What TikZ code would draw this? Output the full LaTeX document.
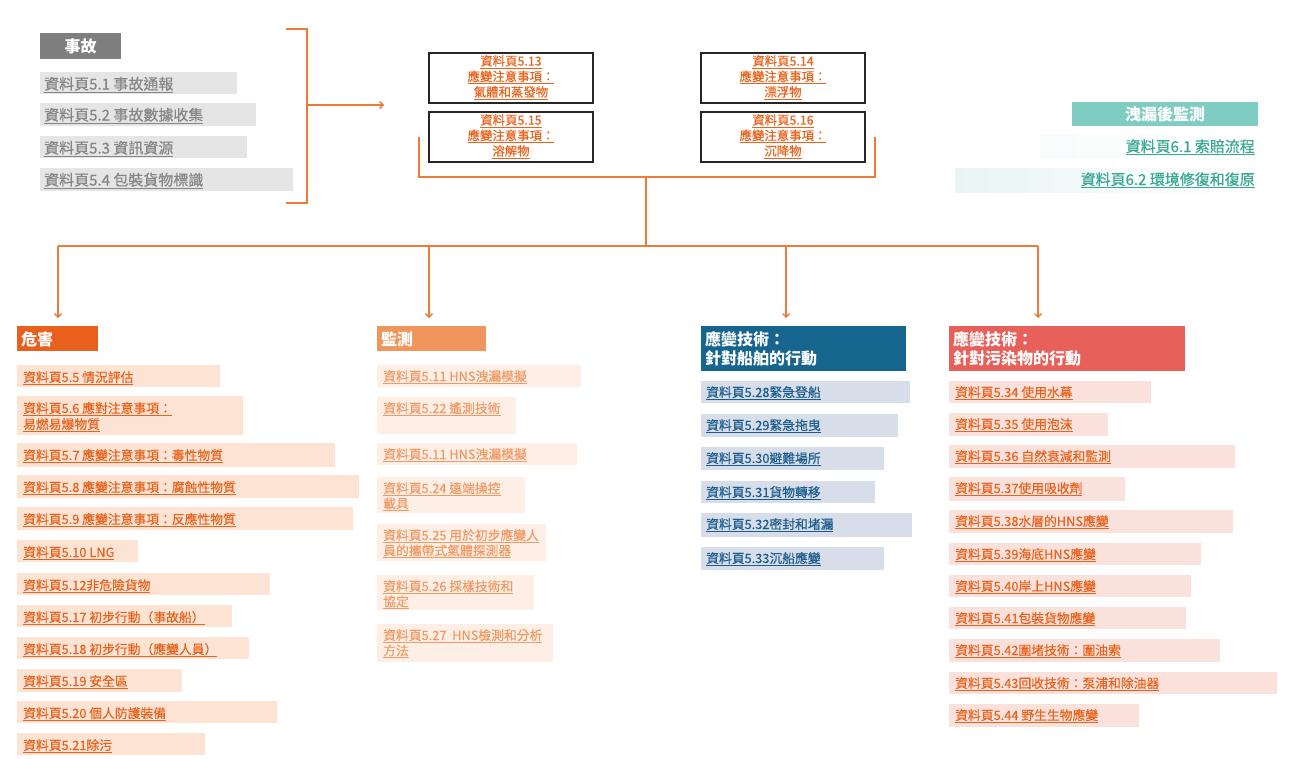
\documentclass[tikz,border=0pt]{standalone}
\usepackage{fontspec}
\setmainfont{Noto Sans CJK TC}
% slightly heavier face for the sheet titles
\newfontfamily\txtfont{Noto Sans CJK TC}[FakeBold=0.5]
\usetikzlibrary{arrows.meta}

% palette
\definecolor{linkc}{HTML}{EE7A3A}
\definecolor{hzOrange}{HTML}{E8601C}
\definecolor{monOrange}{HTML}{F0955C}
\definecolor{shipBlue}{HTML}{16658F}
\definecolor{polRed}{HTML}{E8605A}
\definecolor{peach}{HTML}{FCE3D3}
\definecolor{peachLight}{HTML}{FDEFE6}
\definecolor{monText}{HTML}{F09A66}
\definecolor{blueBg}{HTML}{D7DEE9}
\definecolor{blueText}{HTML}{1C5C8C}
\definecolor{pinkBg}{HTML}{FBE1DB}
\definecolor{itemOrange}{HTML}{E8641E}
\definecolor{grayHdr}{HTML}{7F7F7F}
\definecolor{grayBg}{HTML}{E5E5E5}
\definecolor{grayText}{HTML}{858585}
\definecolor{tealHdr}{HTML}{7FCCC2}
\definecolor{tealText}{HTML}{38A795}
\definecolor{tealBg}{HTML}{E2F3F0}

% underlined text in the current colour
\newcommand\undl[1]{\setbox0\hbox{#1}\rlap{\rule[-2.6pt]{\wd0}{0.6pt}}\box0}

% coloured bar with left-aligned text lines
% #1 bar style, #2 text style, #3 name, #4 x, #5 y, #6 width, #7 height, #8 lines
\newcommand\entry[8]{%
  \node[#1, minimum width=#6, minimum height=#7] (#3) at (#4,#5) {};
  \node[#2, anchor=base west, inner sep=0pt] (#3t) at ([yshift=-16pt]#3.north west)
    {\begin{tabular}[t]{@{}l@{}}#8\end{tabular}};}

\tikzset{
  bar/.style={inner sep=0pt, outer sep=0pt, anchor=north west},
  grayBar/.style={bar, fill=grayBg},
  grayTx/.style={text=grayText, font=\txtfont\fontsize{15}{18}\selectfont, xshift=4pt, yshift=-1.5pt},
  hzBar/.style={bar, fill=peach},
  hzTx/.style={text=itemOrange, font=\txtfont\fontsize{12.8}{16}\selectfont, xshift=6pt, yshift=-1pt},
  monBar/.style={bar, fill=peachLight},
  monTx/.style={text=monText, font=\txtfont\fontsize{12.8}{15}\selectfont, xshift=6pt},
  shipBar/.style={bar, fill=blueBg},
  shipTx/.style={text=blueText, font=\txtfont\fontsize{12.8}{16}\selectfont, xshift=5pt},
  polBar/.style={bar, fill=pinkBg},
  polTx/.style={text=itemOrange, font=\txtfont\fontsize{12.8}{16}\selectfont, xshift=6pt},
  hdrTx/.style={text=white, font=\fontsize{16}{19}\bfseries\selectfont, xshift=4pt, yshift=-3.5pt},
  notebox/.style={bar, draw=black!85, line width=1.6pt, text=itemOrange,
    font=\txtfont\fontsize{12.4}{15.5}\selectfont, minimum width=164, minimum height=50},
  link/.style={draw=linkc, line width=1.4pt},
  arr/.style={link, -{Straight Barb[length=3.5pt,width=7pt]}},
}

\begin{document}
\begin{tikzpicture}[x=1pt, y=-1pt]
\useasboundingbox (0,0) rectangle (1300,758);
\fill[white] (0,0) rectangle (1300,758);

% ---- incident group
\node[bar, fill=grayHdr, minimum width=81, minimum height=26, text=white,
      font=\fontsize{16}{19}\bfseries\selectfont] (incHdr) at (40,33) {事故};
\entry{grayBar}{grayTx}{g1}{40}{72}{197}{22}{\undl{資料頁5.1 事故通報}}
\entry{grayBar}{grayTx}{g2}{40}{103}{216}{23}{\undl{資料頁5.2 事故數據收集}}
\entry{grayBar}{grayTx}{g3}{40}{136}{207}{22}{\undl{資料頁5.3 資訊資源}}
\entry{grayBar}{grayTx}{g4}{40}{168}{253}{23}{\undl{資料頁5.4 包裝貨物標識}}

% bracket gathering the incident sheets
\coordinate (bkA) at (286,29);
\coordinate (bkB) at (307,29);
\coordinate (bkC) at (307,203);
\coordinate (bkD) at (286,203);
\coordinate (bkM) at (307,105);
\coordinate (grpIn) at (384,105);
\draw[link] (bkA) -- (bkB) -- (bkC) -- (bkD);
\draw[arr] (bkM) -- (grpIn);

% ---- substance behaviour sheets
\node[notebox] (p13) at (429,53) {\begin{tabular}{@{}c@{}}\undl{資料頁5.13}\\\undl{應變注意事項：}\\\undl{氣體和蒸發物}\end{tabular}};
\node[notebox] (p14) at (701,53) {\begin{tabular}{@{}c@{}}\undl{資料頁5.14}\\\undl{應變注意事項：}\\\undl{漂浮物}\end{tabular}};
\node[notebox] (p15) at (429,112) {\begin{tabular}{@{}c@{}}\undl{資料頁5.15}\\\undl{應變注意事項：}\\\undl{溶解物}\end{tabular}};
\node[notebox] (p16) at (701,112) {\begin{tabular}{@{}c@{}}\undl{資料頁5.16}\\\undl{應變注意事項：}\\\undl{沉降物}\end{tabular}};

% bracket under the four sheets and the distribution bus
\coordinate (ubA) at (419,137);
\coordinate (ubB) at (419,177);
\coordinate (ubC) at (875,177);
\coordinate (ubD) at (875,137);
\coordinate (ubM) at (646,177);
\coordinate (hub) at (646,246);
\coordinate (d1) at (58,246);
\coordinate (d2) at (429,246);
\coordinate (d3) at (786,246);
\coordinate (d4) at (1038,246);
\draw[link] (ubA) -- (ubB) -- (ubC) -- (ubD);
\draw[link] (ubM) -- (hub);
\draw[link] (d1) -- (d4);

% ---- post-spill monitoring
\node[bar, fill=tealHdr, minimum width=186, minimum height=24, text=white,
      font=\fontsize{16}{19}\bfseries\selectfont] (postHdr) at (1072,102) {洩漏後監測};
\node[bar, left color=tealBg!25, right color=white, minimum width=218, minimum height=24] (f61bg) at (1040,134) {};
\node[anchor=base east, inner sep=0pt, text=tealText, font=\txtfont\fontsize{15}{18}\selectfont]
  (f61) at ([xshift=-3pt, yshift=-18pt]f61bg.north east) {\undl{資料頁6.1 索賠流程}};
\node[bar, left color=tealBg!80, right color=white, minimum width=303, minimum height=24] (f62bg) at (955,168) {};
\node[anchor=base east, inner sep=0pt, text=tealText, font=\txtfont\fontsize{15}{18}\selectfont]
  (f62) at ([xshift=-3pt, yshift=-17pt]f62bg.north east) {\undl{資料頁6.2 環境修復和復原}};

% ---- column headers
\entry{bar, fill=hzOrange}{hdrTx}{h1}{17}{326}{81}{25}{危害}
\entry{bar, fill=monOrange}{hdrTx}{h2}{377}{326}{109}{25}{監測}
\entry{bar, fill=shipBlue}{hdrTx}{h3}{701}{326}{205}{45}{應變技術：\\針對船舶的行動}
\entry{bar, fill=polRed}{hdrTx}{h4}{949}{326}{236}{45}{應變技術：\\針對污染物的行動}

\draw[arr, shorten >=8pt] (d1) -- (d1 |- h1.north);
\draw[arr, shorten >=8pt] (d2) -- (d2 |- h2.north);
\draw[arr, shorten >=8pt] (d3) -- (d3 |- h3.north);
\draw[arr, shorten >=8pt] (d4) -- (d4 |- h4.north);

% ---- hazards
\entry{hzBar}{hzTx}{c1a}{17}{365}{203}{22}{\undl{資料頁5.5 情況評估}}
\entry{hzBar}{hzTx}{c1b}{17}{396}{226}{39}{\undl{資料頁5.6 應對注意事項：}\\\undl{易燃易爆物質}}
\entry{hzBar}{hzTx}{c1c}{17}{443}{318}{24}{\undl{資料頁5.7 應變注意事項：毒性物質}}
\entry{hzBar}{hzTx}{c1d}{17}{475}{342}{23}{\undl{資料頁5.8 應變注意事項：腐蝕性物質}}
\entry{hzBar}{hzTx}{c1e}{17}{507}{336}{23}{\undl{資料頁5.9 應變注意事項：反應性物質}}
\entry{hzBar}{hzTx}{c1f}{17}{540}{121}{22}{\undl{資料頁5.10 LNG}}
\entry{hzBar}{hzTx}{c1g}{17}{573}{253}{22}{\undl{資料頁5.12非危險貨物}}
\entry{hzBar}{hzTx}{c1h}{17}{605}{215}{22}{\undl{資料頁5.17 初步行動（事故船）}}
\entry{hzBar}{hzTx}{c1i}{17}{637}{232}{22}{\undl{資料頁5.18 初步行動（應變人員）}}
\entry{hzBar}{hzTx}{c1j}{17}{669}{165}{23}{\undl{資料頁5.19 安全區}}
\entry{hzBar}{hzTx}{c1k}{17}{701}{260}{22}{\undl{資料頁5.20 個人防護裝備}}
\entry{hzBar}{hzTx}{c1l}{17}{733}{188}{22}{\undl{資料頁5.21除污}}

% ---- monitoring
\entry{monBar}{monTx}{c2a}{377}{365}{204}{22}{\undl{資料頁5.11 HNS洩漏模擬}}
\entry{monBar}{monTx}{c2b}{377}{397}{139}{37}{\undl{資料頁5.22 遙測技術}}
\entry{monBar}{monTx}{c2c}{377}{443}{200}{22}{\undl{資料頁5.11 HNS洩漏模擬}}
\entry{monBar}{monTx}{c2d}{377}{477}{148}{36}{\undl{資料頁5.24 遠端操控}\\\undl{載具}}
\entry{monBar}{monTx}{c2e}{377}{524}{169}{37}{\undl{資料頁5.25 用於初步應變人}\\\undl{員的攜帶式氣體探測器}}
\entry{monBar}{monTx}{c2f}{377}{575}{157}{35}{\undl{資料頁5.26 採樣技術和}\\\undl{協定}}
\entry{monBar}{monTx}{c2g}{377}{624}{176}{38}{\undl{資料頁5.27 \ HNS檢測和分析}\\\undl{方法}}

% ---- actions on the ship
\entry{shipBar}{shipTx}{c3a}{701}{381}{209}{22}{\undl{資料頁5.28緊急登船}}
\entry{shipBar}{shipTx}{c3b}{701}{414}{197}{23}{\undl{資料頁5.29緊急拖曳}}
\entry{shipBar}{shipTx}{c3c}{701}{447}{183}{23}{\undl{資料頁5.30避難場所}}
\entry{shipBar}{shipTx}{c3d}{701}{481}{174}{22}{\undl{資料頁5.31貨物轉移}}
\entry{shipBar}{shipTx}{c3e}{701}{513}{211}{24}{\undl{資料頁5.32密封和堵漏}}
\entry{shipBar}{shipTx}{c3f}{701}{547}{183}{23}{\undl{資料頁5.33沉船應變}}

% ---- actions on the pollutant
\entry{polBar}{polTx}{c4a}{949}{381}{202}{22}{\undl{資料頁5.34 使用水幕}}
\entry{polBar}{polTx}{c4b}{949}{413}{159}{23}{\undl{資料頁5.35 使用泡沫}}
\entry{polBar}{polTx}{c4c}{949}{445}{286}{23}{\undl{資料頁5.36 自然衰減和監測}}
\entry{polBar}{polTx}{c4d}{949}{477}{176}{24}{\undl{資料頁5.37使用吸收劑}}
\entry{polBar}{polTx}{c4e}{949}{510}{284}{23}{\undl{資料頁5.38水層的HNS應變}}
\entry{polBar}{polTx}{c4f}{949}{543}{252}{22}{\undl{資料頁5.39海底HNS應變}}
\entry{polBar}{polTx}{c4g}{949}{575}{242}{22}{\undl{資料頁5.40岸上HNS應變}}
\entry{polBar}{polTx}{c4h}{949}{607}{237}{22}{\undl{資料頁5.41包裝貨物應變}}
\entry{polBar}{polTx}{c4i}{949}{639}{271}{23}{\undl{資料頁5.42圍堵技術：圍油索}}
\entry{polBar}{polTx}{c4j}{949}{672}{328}{22}{\undl{資料頁5.43回收技術：泵浦和除油器}}
\entry{polBar}{polTx}{c4k}{949}{704}{190}{23}{\undl{資料頁5.44 野生生物應變}}

\end{tikzpicture}
\end{document}
